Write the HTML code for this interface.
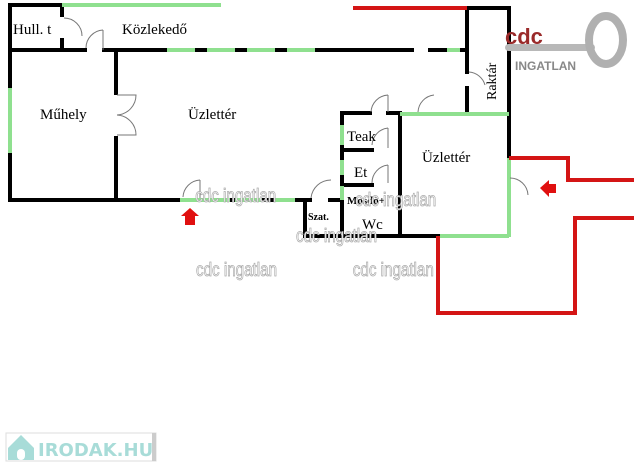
<!DOCTYPE html>
<html><head><meta charset="utf-8"><style>
html,body{margin:0;padding:0;background:#fff;width:640px;height:467px;overflow:hidden}
svg{display:block}
.l{font-family:"Liberation Serif",serif;fill:#000}
.w{font-family:"Liberation Sans",sans-serif;font-size:19px;fill:#fff;stroke:#aaa;stroke-width:0.8}
</style></head><body>
<svg width="640" height="467" viewBox="0 0 640 467" xmlns="http://www.w3.org/2000/svg">
<g stroke="#000" stroke-width="4" fill="none" stroke-linecap="square">
<line x1="10" y1="5" x2="10" y2="88"/><line x1="10" y1="153" x2="10" y2="200"/>
<line x1="10" y1="5" x2="62" y2="5"/>
<line x1="62" y1="5" x2="62" y2="15"/><line x1="62" y1="40" x2="62" y2="50"/>
<line x1="10" y1="50" x2="85" y2="50"/><line x1="104" y1="50" x2="167" y2="50"/>
<line x1="195" y1="50" x2="207" y2="50"/><line x1="235" y1="50" x2="247" y2="50"/><line x1="275" y1="50" x2="287" y2="50"/><line x1="315" y1="50" x2="412" y2="50"/><line x1="430" y1="50" x2="447" y2="50"/><line x1="460" y1="50" x2="467" y2="50"/>
<line x1="116" y1="50" x2="116" y2="93"/><line x1="116" y1="138" x2="116" y2="200"/>
<line x1="10" y1="200" x2="180" y2="200"/>
<line x1="230" y1="200" x2="235" y2="200"/><line x1="262" y1="200" x2="275" y2="200"/><line x1="295" y1="200" x2="310" y2="200"/><line x1="330" y1="200" x2="341" y2="200"/>
<line x1="467" y1="8" x2="509" y2="8"/>
<line x1="467" y1="8" x2="467" y2="72"/><line x1="467" y1="88" x2="467" y2="112"/>
<line x1="509" y1="8" x2="509" y2="158"/>
<line x1="342" y1="113" x2="370" y2="113"/><line x1="388" y1="113" x2="400" y2="113"/>
<line x1="342" y1="113" x2="342" y2="125"/><line x1="342" y1="145" x2="342" y2="160"/><line x1="342" y1="175" x2="342" y2="236"/>
<line x1="400" y1="113" x2="400" y2="236"/>
<line x1="342" y1="150" x2="372" y2="150"/><line x1="342" y1="185" x2="372" y2="185"/>
<line x1="305" y1="200" x2="305" y2="236"/>
<line x1="305" y1="236" x2="440" y2="236"/>
</g>
<g stroke="#8fe08f" stroke-width="4" fill="none">
<line x1="62" y1="5" x2="221" y2="5"/>
<line x1="167" y1="50" x2="195" y2="50"/><line x1="207" y1="50" x2="235" y2="50"/><line x1="247" y1="50" x2="275" y2="50"/><line x1="287" y1="50" x2="315" y2="50"/><line x1="447" y1="50" x2="460" y2="50"/>
<line x1="10" y1="88" x2="10" y2="153"/>
<line x1="180" y1="200" x2="230" y2="200"/><line x1="235" y1="200" x2="262" y2="200"/><line x1="275" y1="200" x2="295" y2="200"/>
<line x1="400" y1="114" x2="509" y2="114"/>
<line x1="509" y1="158" x2="509" y2="237"/>
<line x1="440" y1="236" x2="509" y2="236"/>
<line x1="342" y1="125" x2="342" y2="145"/><line x1="342" y1="160" x2="342" y2="175"/><line x1="342" y1="186" x2="342" y2="200"/>
</g>
<g stroke="#d41515" stroke-width="4" fill="none">
<polyline points="353,8 467,8"/>
<polyline points="509,158 568,158 568,180 634,180"/>
<polyline points="634,218 575,218 575,313 438,313 438,236"/>
</g>
<g stroke="#777" stroke-width="1" fill="none">
<path d="M64,18 A18,18 0 0 1 82,36"/>
<path d="M103,30 L103,50 M103,30 A18,18 0 0 0 86,48"/>
<path d="M117,95 L136,95 A20,20 0 0 1 117,115 A20,20 0 0 1 136,135 L117,135"/>
<path d="M200,180 L200,198 M200,180 A18,18 0 0 0 183,197"/>
<path d="M331,180 A20,20 0 0 0 311,198"/>
<path d="M388,95 L388,112 M388,95 A18,18 0 0 0 371,112"/>
<path d="M434,95 A18,18 0 0 0 418,112"/>
<path d="M469,72 A18,18 0 0 1 485,85"/>
<path d="M388,128 L388,148 M388,128 A18,18 0 0 0 372,145"/>
<path d="M388,165 L388,183 M388,165 A18,18 0 0 0 372,183"/>
<path d="M510,178 A18,18 0 0 1 528,195"/>
</g>
<polygon points="190,208 199,216 195,216 195,225 185,225 185,216 181,216" fill="#e01010"/>
<polygon points="540,188 549,180 549,184 556,184 556,193 549,193 549,197" fill="#e01010"/>
<text class="l" x="13" y="34" font-size="15">Hull. t</text>
<text class="l" x="122" y="34" font-size="15">Közlekedő</text>
<text class="l" x="40" y="119" font-size="15">Műhely</text>
<text class="l" x="188" y="119" font-size="15">Üzlettér</text>
<text class="l" x="347" y="141" font-size="15">Teak</text>
<text class="l" x="354" y="177" font-size="15">Et</text>
<text class="l" x="347" y="204" font-size="11" font-weight="bold">Mosdó+</text>
<text class="l" x="362" y="229" font-size="15">Wc</text>
<text class="l" x="308" y="220" font-size="10" font-weight="bold">Szat.</text>
<text class="l" x="422" y="162" font-size="15">Üzlettér</text>
<text class="l" font-size="14" transform="translate(496,100) rotate(-90)">Raktár</text>
<g transform="scale(0.8,1)">
<text class="w" x="244" y="202">cdc ingatlan</text>
<text class="w" x="444" y="206">cdc ingatlan</text>
<text class="w" x="370" y="242">cdc ingatlan</text>
<text class="w" x="245" y="276">cdc ingatlan</text>
<text class="w" x="441" y="276">cdc ingatlan</text>
</g>
<rect x="505" y="44" width="90" height="7" rx="3.5" fill="#b8b8b8"/>
<ellipse cx="606" cy="40" rx="17" ry="24" fill="none" stroke="#b0b0b0" stroke-width="8"/>
<text x="505" y="44" font-family="Liberation Sans,sans-serif" font-weight="bold" font-size="22" fill="#9a2a2a">cdc</text>
<text x="515" y="70" font-family="Liberation Sans,sans-serif" font-weight="bold" font-size="12" fill="#888">INGATLAN</text>
<rect x="6" y="433" width="150" height="28" fill="#fff" stroke="#ddd"/>
<rect x="152" y="433" width="4" height="28" fill="#ccc"/>
<polygon points="8,448 21,435 34,448 34,460 8,460" fill="#a8dcd8"/>
<rect x="17" y="449" width="8" height="11" rx="4" fill="#fff"/>
<text x="38" y="456" font-family="DejaVu Sans,sans-serif" font-weight="bold" font-size="18" fill="#a8dcd8">IRODAK.HU</text>
</svg>
</body></html>
